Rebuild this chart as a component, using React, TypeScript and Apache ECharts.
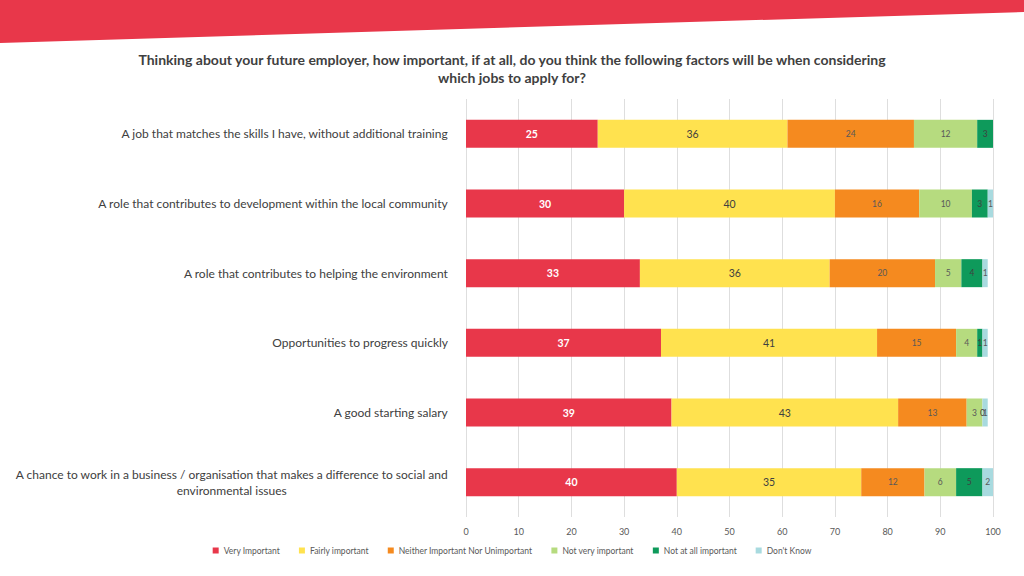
import React, { useEffect, useRef } from "react";
import * as echarts from "echarts";

const categories = [
  "A job that matches the skills I have, without additional training",
  "A role that contributes to development within the local community",
  "A role that contributes to helping the environment",
  "Opportunities to progress quickly",
  "A good starting salary",
  "A chance to work in a business / organisation that makes a difference to social and\nenvironmental issues",
];

const seriesNames = [
  "Very Important",
  "Fairly important",
  "Neither Important Nor Unimportant",
  "Not very important",
  "Not at all important",
  "Don't Know",
];

const veryImportant = [25, 30, 33, 37, 39, 40];
const fairlyImportant = [36, 40, 36, 41, 43, 35];
const neither = [24, 16, 20, 15, 13, 12];
const notVery = [12, 10, 5, 4, 3, 6];
const notAtAll = [3, 3, 4, 1, 0, 5];
const dontKnow = [null, 1, 1, 1, 1, 2];

const xTicks = { min: 0, max: 100, interval: 10 };

const colors = ["#E8374A", "#FFE24F", "#F58A1F", "#B6DB7F", "#0E9A5B", "#A8DADF"];
const labelColors = ["#FFFFFF", "#404040", "#595959", "#595959", "#404040", "#595959"];
const labelSizes = [10.5, 10.5, 8.5, 8.5, 8.5, 8.5];

const FONT = "Lato, 'Open Sans', sans-serif";

export default function App() {
  const ref = useRef<HTMLDivElement>(null);
  useEffect(() => {
    if (!ref.current) return;
    const chart = echarts.init(ref.current, undefined, { renderer: "svg" });
    const data = [veryImportant, fairlyImportant, neither, notVery, notAtAll, dontKnow];
    chart.setOption({
      animation: false,
      backgroundColor: "#ffffff",
      textStyle: { fontFamily: FONT },
      title: {
        text:
          "Thinking about your future employer, how important, if at all, do you think the following factors will be when considering\nwhich jobs to apply for?",
        left: "center",
        top: 45,
        textStyle: {
          fontFamily: FONT,
          fontSize: 14,
          fontWeight: "bold",
          color: "#404040",
          lineHeight: 18,
        },
      },
      graphic: [
        {
          type: "polygon",
          shape: { points: [[0, 0], [1024, 0], [1024, 12], [0, 43]] },
          style: { fill: "#E8374A" },
          silent: true,
        },
      ],
      legend: {
        bottom: 16,
        left: "center",
        icon: "rect",
        itemWidth: 6,
        itemHeight: 6,
        itemGap: 19,
        textStyle: { fontSize: 8.5, color: "#595959", fontFamily: FONT },
        data: seriesNames,
      },
      grid: { left: 466, right: 31, top: 99, bottom: 59, containLabel: false },
      xAxis: {
        type: "value",
        min: xTicks.min,
        max: xTicks.max,
        interval: xTicks.interval,
        axisLine: { show: false },
        axisTick: { show: false },
        splitLine: { show: true, lineStyle: { color: "#DEDEDE", width: 1 } },
        axisLabel: { color: "#595959", fontSize: 9, margin: 10, fontFamily: FONT },
      },
      yAxis: {
        type: "category",
        inverse: true,
        data: categories,
        axisLine: { show: false },
        axisTick: { show: false },
        axisLabel: {
          align: "right",
          margin: 18,
          color: "#404040",
          fontSize: 12,
          fontFamily: FONT,
          formatter: (v: string) =>
            v
              .split("\n")
              .map((l) => "{c|" + l + "}")
              .join("\n"),
          rich: {
            c: { align: "center", fontSize: 12, color: "#404040", fontFamily: FONT, lineHeight: 16 },
          },
        },
      },
      series: seriesNames.map((name, i) => ({
        name,
        type: "bar",
        stack: "total",
        barWidth: 28,
        itemStyle: { color: colors[i] },
        label: {
          show: true,
          position: "inside",
          color: labelColors[i],
          fontSize: labelSizes[i],
          fontWeight: i === 0 ? "bold" : "normal",
          fontFamily: FONT,
          formatter: (p: any) => (p.value === null || p.value === undefined ? "" : String(p.value)),
        },
        data: data[i],
      })),
    });
    return () => chart.dispose();
  }, []);
  return (
    <div
      ref={ref}
      style={{ position: "fixed", left: 0, top: 0, width: 1024, height: 576 }}
    />
  );
}
